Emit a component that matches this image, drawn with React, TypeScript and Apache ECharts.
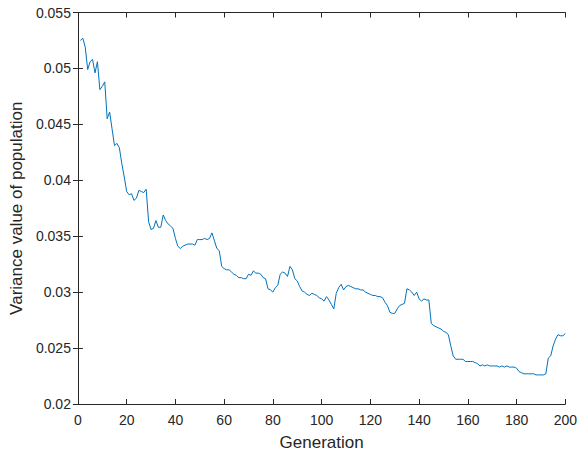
import React, { useEffect, useRef } from "react";
import * as echarts from "echarts";

// Population variance per generation (generations 1..200)
const generations: number[] = Array.from({ length: 200 }, (_, i) => i + 1);

const variance: number[] = [
  0.0525, 0.0527, 0.0519, 0.0499, 0.0506, 0.0508, 0.0496, 0.0506, 0.0481, 0.0484,
  0.0488, 0.0455, 0.0461, 0.0446, 0.0431, 0.0433, 0.0429, 0.0415, 0.0403, 0.0390,
  0.0387, 0.0388, 0.0382, 0.0384, 0.0391, 0.0390, 0.0389, 0.0392, 0.0363, 0.0356,
  0.0357, 0.0364, 0.0358, 0.0358, 0.0369, 0.0364, 0.0361, 0.0359, 0.0357, 0.0348,
  0.0341, 0.0339, 0.0341, 0.0342, 0.0343, 0.0343, 0.0343, 0.0342, 0.0347, 0.0347,
  0.0347, 0.0348, 0.0347, 0.0348, 0.0353, 0.0346, 0.0339, 0.0337, 0.0323, 0.0321,
  0.0320, 0.0320, 0.0318, 0.0316, 0.0315, 0.0313, 0.0313, 0.0312, 0.0312, 0.0316,
  0.0315, 0.0319, 0.0317, 0.0317, 0.0316, 0.0313, 0.0312, 0.0303, 0.0302, 0.0300,
  0.0304, 0.0306, 0.0316, 0.0318, 0.0317, 0.0314, 0.0323, 0.0320, 0.0312, 0.0310,
  0.0305, 0.0301, 0.0300, 0.0298, 0.0297, 0.0299, 0.0298, 0.0297, 0.0295, 0.0294,
  0.0292, 0.0296, 0.0293, 0.0289, 0.0285, 0.0299, 0.0304, 0.0307, 0.0302, 0.0305,
  0.0306, 0.0305, 0.0304, 0.0303, 0.0303, 0.0302, 0.0302, 0.0300, 0.0299, 0.0298,
  0.0297, 0.0297, 0.0296, 0.0296, 0.0295, 0.0291, 0.0288, 0.0282, 0.0281, 0.0281,
  0.0285, 0.0288, 0.0289, 0.0290, 0.0303, 0.0302, 0.0300, 0.0297, 0.0300, 0.0294,
  0.0292, 0.0294, 0.0293, 0.0293, 0.0272, 0.0270, 0.0269, 0.0268, 0.0267, 0.0265,
  0.0264, 0.0262, 0.0252, 0.0243, 0.0240, 0.0240, 0.0240, 0.0240, 0.0238, 0.0238,
  0.0238, 0.0238, 0.0237, 0.0236, 0.0234, 0.0235, 0.0234, 0.0235, 0.0234, 0.0234,
  0.0234, 0.0234, 0.0233, 0.0234, 0.0233, 0.0234, 0.0233, 0.0233, 0.0233, 0.0232,
  0.0229, 0.0228, 0.0227, 0.0227, 0.0227, 0.0227, 0.0227, 0.0226, 0.0226, 0.0226,
  0.0226, 0.0227, 0.0241, 0.0243, 0.0252, 0.0258, 0.0262, 0.0261, 0.0261, 0.0263,
];

const xTicks: number[] = [0, 20, 40, 60, 80, 100, 120, 140, 160, 180, 200];
const yTicks: number[] = [0.02, 0.025, 0.03, 0.035, 0.04, 0.045, 0.05, 0.055];

const FONT = "'Liberation Sans', Arial, Helvetica, sans-serif";
const INK = "#262626";

export default function App() {
  const ref = useRef<HTMLDivElement>(null);

  useEffect(() => {
    if (!ref.current) return;
    const chart = echarts.init(ref.current, undefined, { renderer: "svg" });

    const boxLine = { show: true, lineStyle: { color: INK, width: 1 } };
    const innerTick = { show: true, inside: true, length: 5, lineStyle: { color: INK, width: 1 } };

    chart.setOption({
      animation: false,
      backgroundColor: "#ffffff",
      grid: { left: 74.5, right: 12, top: 12.5, bottom: 52, containLabel: false },
      xAxis: [
        {
          type: "value",
          min: xTicks[0],
          max: xTicks[xTicks.length - 1],
          interval: 20,
          position: "bottom",
          axisLine: boxLine,
          axisTick: innerTick,
          splitLine: { show: false },
          axisLabel: {
            color: INK,
            fontFamily: FONT,
            fontSize: 14,
            margin: 9,
            formatter: (v: number) => (xTicks.includes(v) ? String(v) : ""),
          },
          name: "Generation",
          nameLocation: "middle",
          nameGap: 30,
          nameTextStyle: { color: INK, fontFamily: FONT, fontSize: 17 },
        },
        {
          type: "value",
          min: xTicks[0],
          max: xTicks[xTicks.length - 1],
          interval: 20,
          position: "top",
          axisLine: boxLine,
          axisTick: innerTick,
          axisLabel: { show: false },
          splitLine: { show: false },
        },
      ],
      yAxis: [
        {
          type: "value",
          min: yTicks[0],
          max: yTicks[yTicks.length - 1],
          interval: 0.005,
          position: "left",
          axisLine: boxLine,
          axisTick: innerTick,
          splitLine: { show: false },
          axisLabel: {
            color: INK,
            fontFamily: FONT,
            fontSize: 14,
            margin: 7,
            formatter: (v: number) => String(parseFloat(v.toFixed(3))),
          },
          name: "Variance value of population",
          nameLocation: "middle",
          nameGap: 51,
          nameTextStyle: { color: INK, fontFamily: FONT, fontSize: 17 },
        },
        {
          type: "value",
          min: yTicks[0],
          max: yTicks[yTicks.length - 1],
          interval: 0.005,
          position: "right",
          axisLine: boxLine,
          axisTick: innerTick,
          axisLabel: { show: false },
          splitLine: { show: false },
        },
      ],
      series: [
        {
          type: "line",
          xAxisIndex: 0,
          yAxisIndex: 0,
          data: generations.map((g, i) => [g, variance[i]]),
          showSymbol: false,
          symbol: "none",
          lineStyle: { color: "#0072BD", width: 1 },
        },
      ],
    });

    return () => chart.dispose();
  }, []);

  return <div ref={ref} style={{ width: 580, height: 456, position: "absolute", left: 0, top: 0 }} />;
}
